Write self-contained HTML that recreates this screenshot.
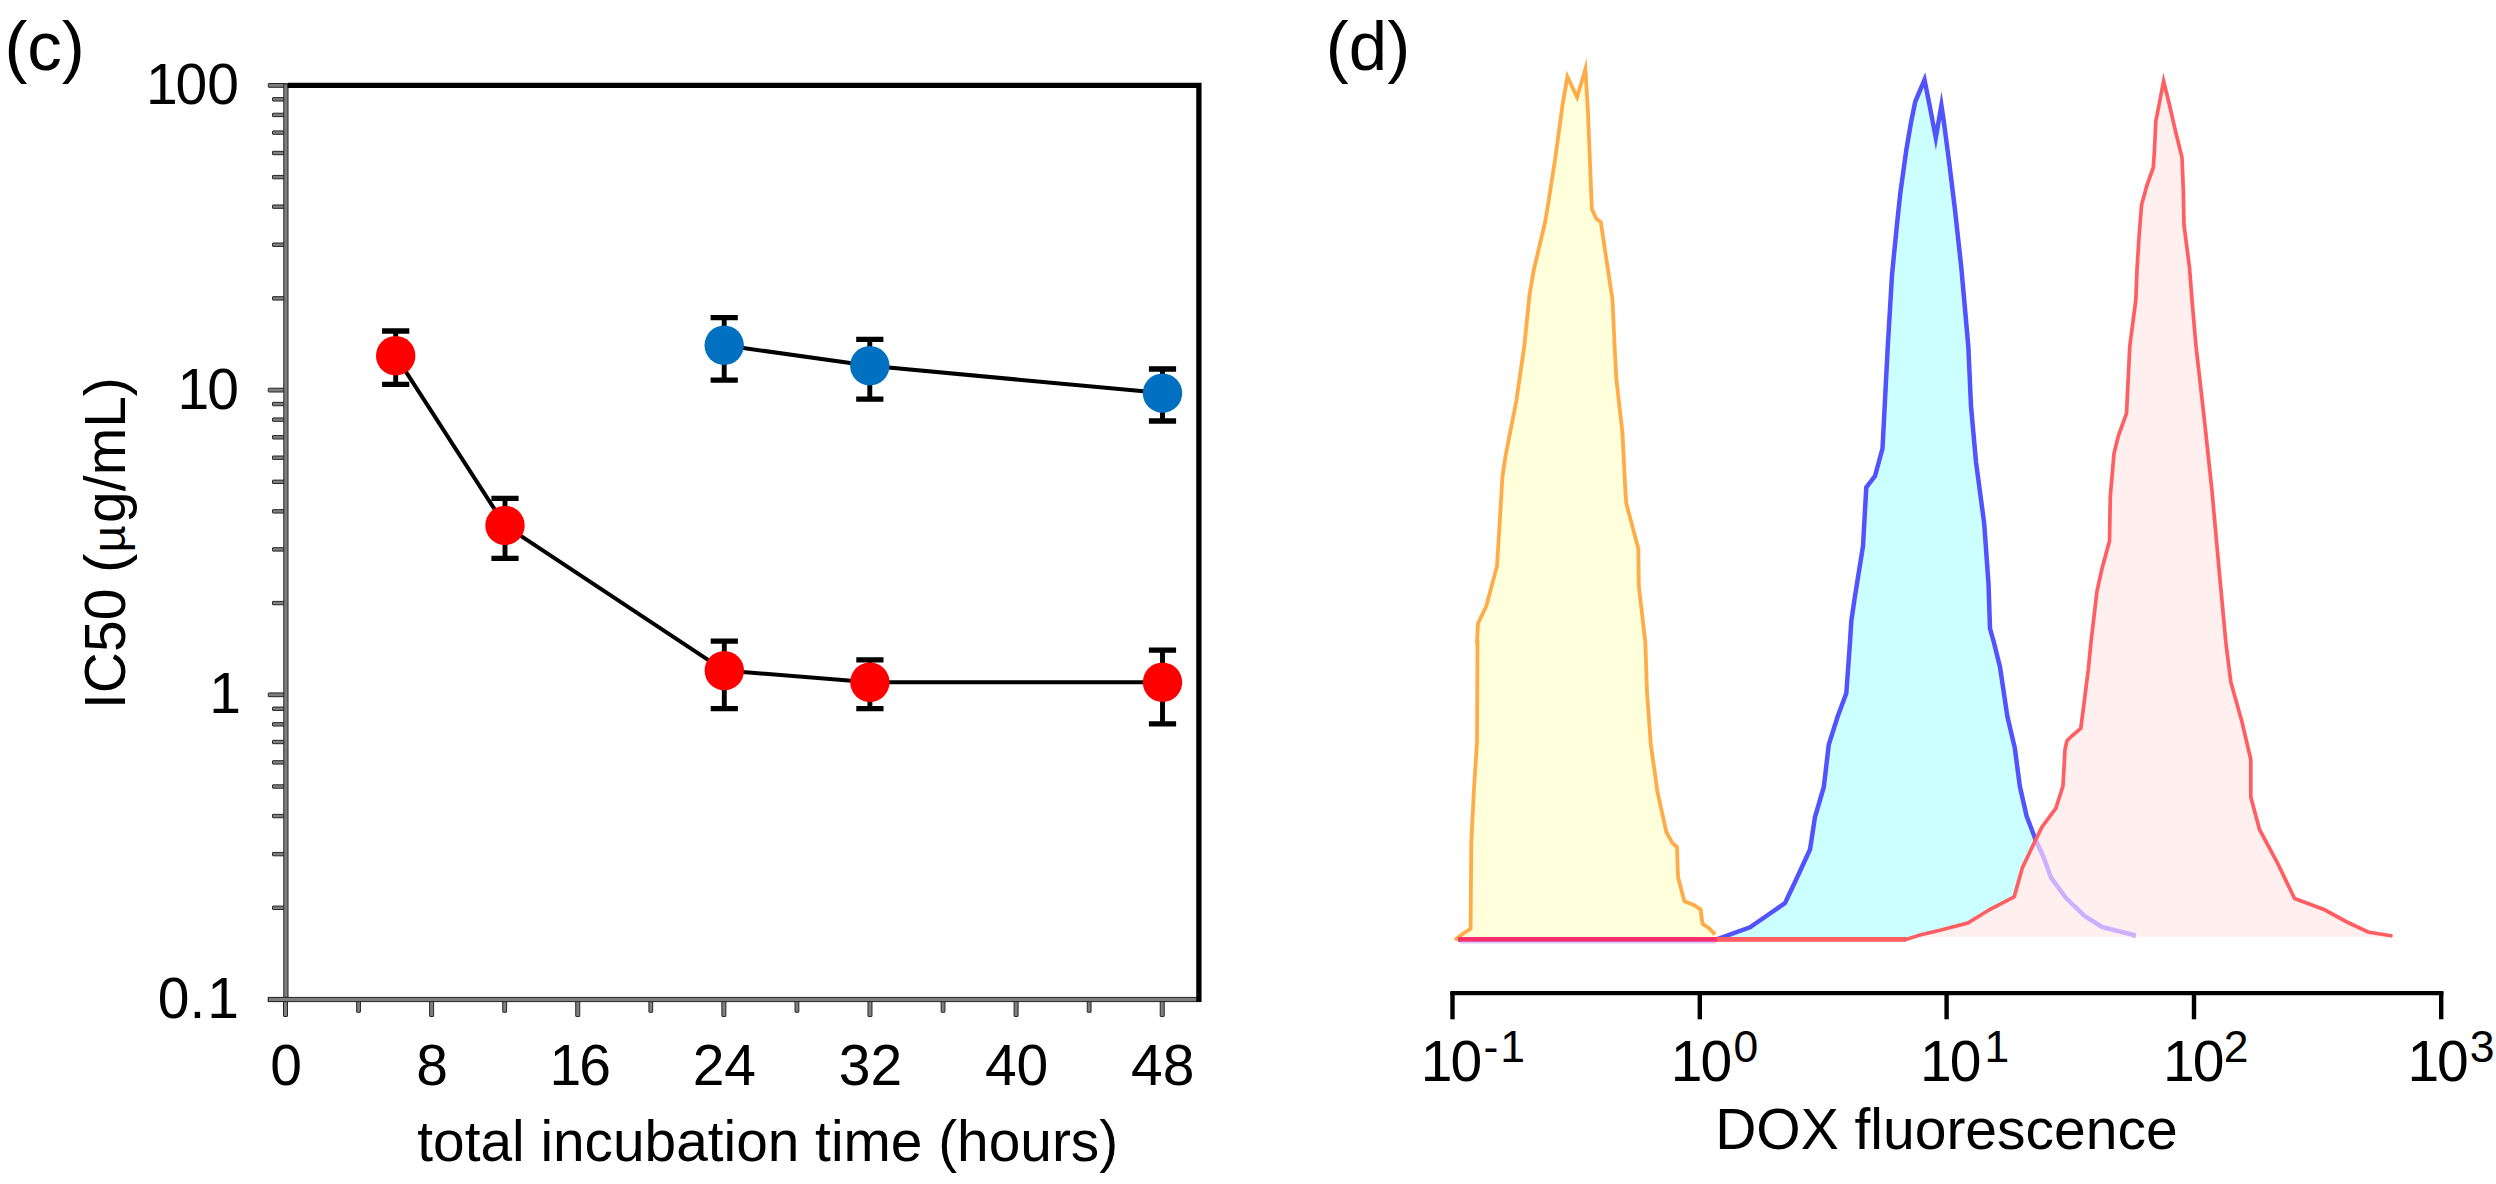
<!DOCTYPE html>
<html lang="en">
<head>
<meta charset="utf-8">
<title>IC50 vs incubation time and DOX fluorescence histograms</title>
<style>
html,body{margin:0;padding:0;background:#fff;}
body{width:2496px;height:1184px;overflow:hidden;}
svg{display:block;}
text{font-family:"Liberation Sans", Arial, Helvetica, sans-serif;}
</style>
</head>
<body>
<svg width="2496" height="1184" viewBox="0 0 2496 1184">
<rect width="2496" height="1184" fill="#ffffff"/>
<g id="panel-c">
<g id="c-ticks">
<rect x="268.30" y="997.60" width="18.00" height="3.80" rx="0.4" fill="#7f7f7f" stroke="#262626" stroke-width="1"/>
<rect x="272.50" y="906.08" width="14.00" height="3.40" rx="0.4" fill="#7f7f7f" stroke="#262626" stroke-width="1"/>
<rect x="272.50" y="852.42" width="14.00" height="3.40" rx="0.4" fill="#7f7f7f" stroke="#262626" stroke-width="1"/>
<rect x="272.50" y="814.35" width="14.00" height="3.40" rx="0.4" fill="#7f7f7f" stroke="#262626" stroke-width="1"/>
<rect x="272.50" y="784.82" width="14.00" height="3.40" rx="0.4" fill="#7f7f7f" stroke="#262626" stroke-width="1"/>
<rect x="272.50" y="760.70" width="14.00" height="3.40" rx="0.4" fill="#7f7f7f" stroke="#262626" stroke-width="1"/>
<rect x="272.50" y="740.30" width="14.00" height="3.40" rx="0.4" fill="#7f7f7f" stroke="#262626" stroke-width="1"/>
<rect x="272.50" y="722.63" width="14.00" height="3.40" rx="0.4" fill="#7f7f7f" stroke="#262626" stroke-width="1"/>
<rect x="272.50" y="707.04" width="14.00" height="3.40" rx="0.4" fill="#7f7f7f" stroke="#262626" stroke-width="1"/>
<rect x="268.30" y="692.90" width="18.00" height="3.80" rx="0.4" fill="#7f7f7f" stroke="#262626" stroke-width="1"/>
<rect x="272.50" y="601.38" width="14.00" height="3.40" rx="0.4" fill="#7f7f7f" stroke="#262626" stroke-width="1"/>
<rect x="272.50" y="547.72" width="14.00" height="3.40" rx="0.4" fill="#7f7f7f" stroke="#262626" stroke-width="1"/>
<rect x="272.50" y="509.65" width="14.00" height="3.40" rx="0.4" fill="#7f7f7f" stroke="#262626" stroke-width="1"/>
<rect x="272.50" y="480.12" width="14.00" height="3.40" rx="0.4" fill="#7f7f7f" stroke="#262626" stroke-width="1"/>
<rect x="272.50" y="456.00" width="14.00" height="3.40" rx="0.4" fill="#7f7f7f" stroke="#262626" stroke-width="1"/>
<rect x="272.50" y="435.60" width="14.00" height="3.40" rx="0.4" fill="#7f7f7f" stroke="#262626" stroke-width="1"/>
<rect x="272.50" y="417.93" width="14.00" height="3.40" rx="0.4" fill="#7f7f7f" stroke="#262626" stroke-width="1"/>
<rect x="272.50" y="402.34" width="14.00" height="3.40" rx="0.4" fill="#7f7f7f" stroke="#262626" stroke-width="1"/>
<rect x="268.30" y="388.20" width="18.00" height="3.80" rx="0.4" fill="#7f7f7f" stroke="#262626" stroke-width="1"/>
<rect x="272.50" y="296.68" width="14.00" height="3.40" rx="0.4" fill="#7f7f7f" stroke="#262626" stroke-width="1"/>
<rect x="272.50" y="243.02" width="14.00" height="3.40" rx="0.4" fill="#7f7f7f" stroke="#262626" stroke-width="1"/>
<rect x="272.50" y="204.95" width="14.00" height="3.40" rx="0.4" fill="#7f7f7f" stroke="#262626" stroke-width="1"/>
<rect x="272.50" y="175.42" width="14.00" height="3.40" rx="0.4" fill="#7f7f7f" stroke="#262626" stroke-width="1"/>
<rect x="272.50" y="151.30" width="14.00" height="3.40" rx="0.4" fill="#7f7f7f" stroke="#262626" stroke-width="1"/>
<rect x="272.50" y="130.90" width="14.00" height="3.40" rx="0.4" fill="#7f7f7f" stroke="#262626" stroke-width="1"/>
<rect x="272.50" y="113.23" width="14.00" height="3.40" rx="0.4" fill="#7f7f7f" stroke="#262626" stroke-width="1"/>
<rect x="272.50" y="97.64" width="14.00" height="3.40" rx="0.4" fill="#7f7f7f" stroke="#262626" stroke-width="1"/>
<rect x="268.30" y="83.50" width="18.00" height="3.80" rx="0.4" fill="#7f7f7f" stroke="#262626" stroke-width="1"/>
<rect x="283.50" y="998.50" width="4.00" height="18.00" rx="0.4" fill="#7f7f7f" stroke="#262626" stroke-width="1"/>
<rect x="356.66" y="998.50" width="3.80" height="13.80" rx="0.4" fill="#7f7f7f" stroke="#262626" stroke-width="1"/>
<rect x="429.62" y="998.50" width="4.00" height="18.00" rx="0.4" fill="#7f7f7f" stroke="#262626" stroke-width="1"/>
<rect x="502.78" y="998.50" width="3.80" height="13.80" rx="0.4" fill="#7f7f7f" stroke="#262626" stroke-width="1"/>
<rect x="575.74" y="998.50" width="4.00" height="18.00" rx="0.4" fill="#7f7f7f" stroke="#262626" stroke-width="1"/>
<rect x="648.90" y="998.50" width="3.80" height="13.80" rx="0.4" fill="#7f7f7f" stroke="#262626" stroke-width="1"/>
<rect x="721.86" y="998.50" width="4.00" height="18.00" rx="0.4" fill="#7f7f7f" stroke="#262626" stroke-width="1"/>
<rect x="795.02" y="998.50" width="3.80" height="13.80" rx="0.4" fill="#7f7f7f" stroke="#262626" stroke-width="1"/>
<rect x="867.98" y="998.50" width="4.00" height="18.00" rx="0.4" fill="#7f7f7f" stroke="#262626" stroke-width="1"/>
<rect x="941.14" y="998.50" width="3.80" height="13.80" rx="0.4" fill="#7f7f7f" stroke="#262626" stroke-width="1"/>
<rect x="1014.10" y="998.50" width="4.00" height="18.00" rx="0.4" fill="#7f7f7f" stroke="#262626" stroke-width="1"/>
<rect x="1087.26" y="998.50" width="3.80" height="13.80" rx="0.4" fill="#7f7f7f" stroke="#262626" stroke-width="1"/>
<rect x="1160.22" y="998.50" width="4.00" height="18.00" rx="0.4" fill="#7f7f7f" stroke="#262626" stroke-width="1"/>
</g>
<rect x="283.80" y="83.90" width="4.20" height="917.60" rx="0" fill="#7f7f7f" stroke="#262626" stroke-width="1"/>
<rect x="268.30" y="997.40" width="930.60" height="4.20" rx="0" fill="#7f7f7f" stroke="#262626" stroke-width="1"/>
<path d="M287.50 85.40 H1198.90 V1002.10" fill="none" stroke="#000" stroke-width="5.3" stroke-linejoin="miter"/>
<g id="c-blue">
<path d="M724.20 345.30 L869.80 365.80 L1162.50 393.10" fill="none" stroke="#000" stroke-width="4.0" stroke-linejoin="round"/>
<path d="M710.60 317.60H737.80M710.60 380.10H737.80" stroke="#000" stroke-width="5.3" fill="none"/>
<path d="M724.20 317.60V380.10" stroke="#000" stroke-width="4.9" fill="none"/>
<path d="M856.20 339.40H883.40M856.20 399.20H883.40" stroke="#000" stroke-width="5.3" fill="none"/>
<path d="M869.80 339.40V399.20" stroke="#000" stroke-width="4.9" fill="none"/>
<path d="M1148.90 369.00H1176.10M1148.90 421.00H1176.10" stroke="#000" stroke-width="5.3" fill="none"/>
<path d="M1162.50 369.00V421.00" stroke="#000" stroke-width="4.9" fill="none"/>
<circle cx="724.20" cy="345.30" r="19.7" fill="#0070c0"/>
<circle cx="869.80" cy="365.80" r="19.7" fill="#0070c0"/>
<circle cx="1162.50" cy="393.10" r="19.7" fill="#0070c0"/>
</g>
<g id="c-red">
<path d="M395.70 355.80 L505.00 525.40 L724.30 670.60 L869.90 682.20 L1162.50 682.30" fill="none" stroke="#000" stroke-width="4.0" stroke-linejoin="round"/>
<path d="M382.10 331.00H409.30M382.10 384.40H409.30" stroke="#000" stroke-width="5.3" fill="none"/>
<path d="M395.70 331.00V384.40" stroke="#000" stroke-width="4.9" fill="none"/>
<path d="M491.40 498.40H518.60M491.40 558.30H518.60" stroke="#000" stroke-width="5.3" fill="none"/>
<path d="M505.00 498.40V558.30" stroke="#000" stroke-width="4.9" fill="none"/>
<path d="M710.70 641.10H737.90M710.70 708.60H737.90" stroke="#000" stroke-width="5.3" fill="none"/>
<path d="M724.30 641.10V708.60" stroke="#000" stroke-width="4.9" fill="none"/>
<path d="M856.30 659.90H883.50M856.30 708.60H883.50" stroke="#000" stroke-width="5.3" fill="none"/>
<path d="M869.90 659.90V708.60" stroke="#000" stroke-width="4.9" fill="none"/>
<path d="M1148.90 650.20H1176.10M1148.90 723.80H1176.10" stroke="#000" stroke-width="5.3" fill="none"/>
<path d="M1162.50 650.20V723.80" stroke="#000" stroke-width="4.9" fill="none"/>
<circle cx="395.70" cy="355.80" r="19.7" fill="#ff0000"/>
<circle cx="505.00" cy="525.40" r="19.7" fill="#ff0000"/>
<circle cx="724.30" cy="670.60" r="19.7" fill="#ff0000"/>
<circle cx="869.90" cy="682.20" r="19.7" fill="#ff0000"/>
<circle cx="1162.50" cy="682.30" r="19.7" fill="#ff0000"/>
</g>
<g font-family='"Liberation Sans", Arial, Helvetica, sans-serif' font-size="57" fill="#000">
<text x="4.4" y="69.6" font-size="69">(c)</text>
<text x="237.0" y="104.00" text-anchor="end"><tspan dx="2.0">1</tspan><tspan dx="-2.0">0</tspan>0</text>
<text x="237.0" y="408.70" text-anchor="end"><tspan dx="2.0">1</tspan><tspan dx="-2.0">0</tspan></text>
<text x="239.0" y="713.40" text-anchor="end"><tspan dx="2.0">1</tspan></text>
<text x="239.0" y="1018.10" text-anchor="end">0.<tspan dx="2.0">1</tspan></text>
<text x="286.00" y="1085.3" text-anchor="middle">0</text>
<text x="432.12" y="1085.3" text-anchor="middle">8</text>
<text x="578.24" y="1085.3" text-anchor="middle"><tspan dx="2.0">1</tspan><tspan dx="-2.0">6</tspan></text>
<text x="724.36" y="1085.3" text-anchor="middle">24</text>
<text x="870.48" y="1085.3" text-anchor="middle">32</text>
<text x="1016.60" y="1085.3" text-anchor="middle">40</text>
<text x="1162.72" y="1085.3" text-anchor="middle">48</text>
<text x="767.7" y="1160.8" text-anchor="middle" font-size="56.8">total incubation time (hours)</text>
<text transform="translate(124.9 709.0) rotate(-90)">IC50 (<tspan font-size="47" dx="1.4">µ</tspan><tspan dx="2.4">g/mL)</tspan></text>
</g>
</g>
<g id="panel-d">
<g id="d-orange">
<polygon points="1455.0,937.0 1455.0,940.0 1462.5,934.0 1470.6,928.8 1470.8,900.0 1471.3,842.0 1473.8,792.0 1477.0,742.0 1477.5,642.0 1477.0,642.0 1478.0,623.5 1486.3,606.0 1497.0,566.0 1499.5,526.0 1502.5,476.0 1505.5,456.0 1516.3,401.0 1524.3,346.0 1529.5,295.0 1533.8,270.0 1545.0,222.5 1548.0,205.0 1555.0,160.0 1562.5,105.0 1567.4,76.8 1577.1,97.2 1585.4,69.0 1588.0,112.5 1591.8,208.8 1596.3,218.8 1600.8,222.0 1612.5,300.0 1614.6,346.0 1616.3,378.5 1622.5,433.5 1625.5,493.5 1626.3,503.5 1638.3,548.5 1638.8,586.0 1645.3,642.0 1647.0,692.0 1650.8,744.5 1657.5,792.0 1666.3,832.0 1672.5,843.3 1677.0,847.0 1678.0,877.0 1684.4,901.3 1693.8,905.0 1700.6,909.4 1702.5,923.8 1708.8,928.0 1715.0,934.4 1715.0,937.0" fill="#ffffdc" fill-opacity="1" stroke="none"/>
<polyline points="1455.0,940.0 1462.5,934.0 1470.6,928.8 1470.8,900.0 1471.3,842.0 1473.8,792.0 1477.0,742.0 1477.5,642.0 1477.0,642.0 1478.0,623.5 1486.3,606.0 1497.0,566.0 1499.5,526.0 1502.5,476.0 1505.5,456.0 1516.3,401.0 1524.3,346.0 1529.5,295.0 1533.8,270.0 1545.0,222.5 1548.0,205.0 1555.0,160.0 1562.5,105.0 1567.4,76.8 1577.1,97.2 1585.4,69.0 1588.0,112.5 1591.8,208.8 1596.3,218.8 1600.8,222.0 1612.5,300.0 1614.6,346.0 1616.3,378.5 1622.5,433.5 1625.5,493.5 1626.3,503.5 1638.3,548.5 1638.8,586.0 1645.3,642.0 1647.0,692.0 1650.8,744.5 1657.5,792.0 1666.3,832.0 1672.5,843.3 1677.0,847.0 1678.0,877.0 1684.4,901.3 1693.8,905.0 1700.6,909.4 1702.5,923.8 1708.8,928.0 1715.0,934.4" fill="none" stroke="#ffab48" stroke-width="3.8" stroke-linejoin="miter" stroke-miterlimit="12" stroke-linecap="butt"/>
</g>
<g id="d-blue">
<polygon points="1458.0,937.0 1458.0,939.6 1716.0,939.6 1750.0,927.3 1770.0,913.5 1785.0,903.1 1790.0,892.5 1795.0,882.0 1810.0,849.5 1815.0,817.0 1823.8,787.0 1828.8,744.5 1837.5,717.0 1846.3,693.3 1850.0,642.0 1851.3,621.0 1855.0,596.0 1863.0,546.0 1866.3,487.3 1875.0,476.0 1882.5,448.5 1885.0,400.0 1887.8,346.0 1892.0,275.0 1897.0,224.0 1900.4,192.5 1906.3,150.0 1911.0,122.5 1915.3,101.5 1924.5,79.8 1930.0,107.5 1935.8,137.8 1941.4,105.4 1943.6,120.0 1949.2,162.5 1955.0,210.0 1961.3,267.5 1968.3,346.0 1971.0,406.0 1976.0,462.0 1984.2,523.5 1988.5,583.5 1990.0,628.5 1993.8,642.0 2000.0,667.0 2007.3,716.0 2014.8,748.0 2019.8,786.0 2026.6,816.0 2035.5,839.5 2043.5,857.0 2051.0,877.6 2066.0,898.0 2084.5,915.8 2102.0,927.0 2122.0,932.0 2135.8,935.5 2135.8,937.0" fill="#ccffff" fill-opacity="1" stroke="none"/>
<polyline points="1458.0,939.6 1716.0,939.6 1750.0,927.3 1770.0,913.5 1785.0,903.1 1790.0,892.5 1795.0,882.0 1810.0,849.5 1815.0,817.0 1823.8,787.0 1828.8,744.5 1837.5,717.0 1846.3,693.3 1850.0,642.0 1851.3,621.0 1855.0,596.0 1863.0,546.0 1866.3,487.3 1875.0,476.0 1882.5,448.5 1885.0,400.0 1887.8,346.0 1892.0,275.0 1897.0,224.0 1900.4,192.5 1906.3,150.0 1911.0,122.5 1915.3,101.5 1924.5,79.8 1930.0,107.5 1935.8,137.8 1941.4,105.4 1943.6,120.0 1949.2,162.5 1955.0,210.0 1961.3,267.5 1968.3,346.0 1971.0,406.0 1976.0,462.0 1984.2,523.5 1988.5,583.5 1990.0,628.5 1993.8,642.0 2000.0,667.0 2007.3,716.0 2014.8,748.0 2019.8,786.0 2026.6,816.0 2035.5,839.5 2043.5,857.0 2051.0,877.6 2066.0,898.0 2084.5,915.8 2102.0,927.0 2122.0,932.0 2135.8,935.5" fill="none" stroke="#5252ff" stroke-width="4.5" stroke-linejoin="miter" stroke-miterlimit="12" stroke-linecap="butt"/>
</g>
<g id="d-red">
<polygon points="1906.0,937.0 1906.0,939.4 1920.0,935.0 1941.0,930.0 1967.8,923.0 1989.7,909.5 2014.2,896.8 2022.3,868.0 2035.8,839.5 2042.0,827.0 2055.8,808.3 2063.0,786.0 2065.0,749.5 2067.0,740.8 2072.0,735.8 2080.8,728.3 2084.5,699.5 2088.3,669.5 2091.0,642.0 2097.0,591.0 2102.0,568.5 2109.5,541.0 2110.3,496.0 2114.0,453.5 2118.3,436.0 2126.5,413.5 2129.8,346.0 2135.8,300.0 2137.0,270.0 2139.0,237.5 2141.5,205.0 2147.0,185.0 2153.3,167.5 2154.5,150.0 2155.8,121.3 2159.5,102.5 2163.6,81.1 2169.5,105.0 2175.8,132.5 2182.0,157.5 2183.3,190.0 2184.0,225.0 2189.5,267.5 2192.0,300.0 2196.0,346.0 2204.5,421.0 2212.0,491.0 2218.3,561.0 2225.8,642.0 2230.8,682.0 2242.0,722.0 2250.8,759.5 2250.8,797.0 2259.5,829.5 2277.0,862.0 2294.6,898.6 2324.0,909.5 2347.0,922.0 2368.0,932.0 2392.5,936.0 2392.5,937.0" fill="#ffefef" stroke="none"/>
<polyline points="2035.5,839.5 2043.5,857.0 2051.0,877.6 2066.0,898.0 2084.5,915.8 2102.0,927.0 2122.0,932.0 2135.8,935.5" fill="none" stroke="#cdb0ff" stroke-width="4.5" stroke-linejoin="round"/>
<polyline points="1458.0,939.4 1906.0,939.4 1920.0,935.0 1941.0,930.0 1967.8,923.0 1989.7,909.5 2014.2,896.8 2022.3,868.0 2035.8,839.5 2042.0,827.0 2055.8,808.3 2063.0,786.0 2065.0,749.5 2067.0,740.8 2072.0,735.8 2080.8,728.3 2084.5,699.5 2088.3,669.5 2091.0,642.0 2097.0,591.0 2102.0,568.5 2109.5,541.0 2110.3,496.0 2114.0,453.5 2118.3,436.0 2126.5,413.5 2129.8,346.0 2135.8,300.0 2137.0,270.0 2139.0,237.5 2141.5,205.0 2147.0,185.0 2153.3,167.5 2154.5,150.0 2155.8,121.3 2159.5,102.5 2163.6,81.1 2169.5,105.0 2175.8,132.5 2182.0,157.5 2183.3,190.0 2184.0,225.0 2189.5,267.5 2192.0,300.0 2196.0,346.0 2204.5,421.0 2212.0,491.0 2218.3,561.0 2225.8,642.0 2230.8,682.0 2242.0,722.0 2250.8,759.5 2250.8,797.0 2259.5,829.5 2277.0,862.0 2294.6,898.6 2324.0,909.5 2347.0,922.0 2368.0,932.0 2392.5,936.0" fill="none" stroke="#ff5f62" stroke-width="3.7" stroke-linejoin="miter" stroke-miterlimit="12"/>
<path d="M1716 939.4H1906" stroke="#ff5f62" stroke-width="4.6" fill="none"/>
<path d="M1458 939.4H1717" stroke="#ff2f6e" stroke-width="4.8" fill="none"/>
<path d="M1460 942.6H1716" stroke="#dcc8ff" stroke-width="1.6" fill="none"/>
</g>
<path d="M1450.3 993.2H2443.4" stroke="#000" stroke-width="4.2" fill="none"/>
<path d="M1452.5 992V1019.3" stroke="#000" stroke-width="4.4" fill="none"/>
<path d="M1699.8 992V1019.3" stroke="#000" stroke-width="4.4" fill="none"/>
<path d="M1946.6 992V1019.3" stroke="#000" stroke-width="4.4" fill="none"/>
<path d="M2194.0 992V1019.3" stroke="#000" stroke-width="4.4" fill="none"/>
<path d="M2441.2 992V1019.3" stroke="#000" stroke-width="4.4" fill="none"/>
<g font-family='"Liberation Sans", Arial, Helvetica, sans-serif' font-size="57" fill="#000">
<text x="1325.8" y="69.7" font-size="69">(d)</text>
<text x="1418.8" y="1081.2"><tspan dx="2.0">1</tspan><tspan dx="-2.0">0</tspan><tspan font-size="44.5" dy="-19.7" dx="1.2">-</tspan><tspan font-size="44.5" dx="1.9">1</tspan></text>
<text x="1668.8" y="1081.2"><tspan dx="2.0">1</tspan><tspan dx="-2.0">0</tspan><tspan font-size="44.5" dy="-19.7" dx="1.2">0</tspan></text>
<text x="1918.0" y="1081.2"><tspan dx="2.0">1</tspan><tspan dx="-2.0">0</tspan><tspan font-size="44.5" dy="-19.7" dx="3.1">1</tspan></text>
<text x="2161.1" y="1081.2"><tspan dx="2.0">1</tspan><tspan dx="-2.0">0</tspan><tspan font-size="44.5" dy="-19.7" dx="-0.8">2</tspan></text>
<text x="2405.4" y="1081.2"><tspan dx="2.0">1</tspan><tspan dx="-2.0">0</tspan><tspan font-size="44.5" dy="-19.7" dx="1.0">3</tspan></text>
<text x="1946.4" y="1148.6" text-anchor="middle">DOX fluorescence</text>
</g>
</g>
</svg>
</body>
</html>
